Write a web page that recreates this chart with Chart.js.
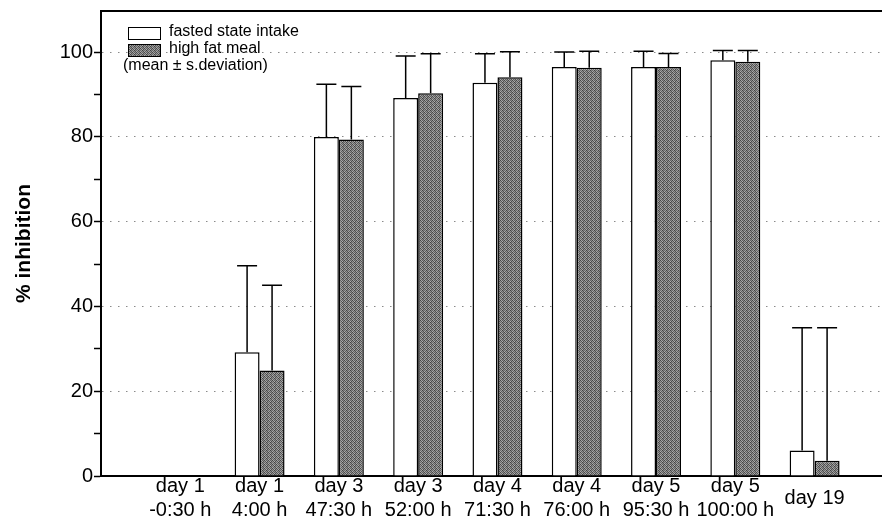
<!DOCTYPE html>
<html>
<head>
<meta charset="utf-8">
<script src="https://cdn.jsdelivr.net/npm/chart.js@4.4.1/dist/chart.umd.min.js"></script>
<style>
  html, body { margin: 0; padding: 0; background: #fff; }
  canvas { display: block; }
</style>
</head>
<body>
<canvas id="barChart" width="882" height="517"></canvas>
<script>
// x labels (one per time point)
const timeLabels = [
    ['day 1', '-0:30 h'], ['day 1', '4:00 h'], ['day 3', '47:30 h'],
    ['day 3', '52:00 h'], ['day 4', '71:30 h'], ['day 4', '76:00 h'],
    ['day 5', '95:30 h'], ['day 5', '100:00 h'], ['day 19']
];

// % inhibition
const fastedMean = [null, 29.2, 80.0, 89.2, 92.8, 96.5, 96.5, 98.1, 6.0];
const fastedSd   = [null, 20.4, 12.4, 9.9, 6.8, 3.5, 3.7, 2.3, 29.0];
const fatMean    = [null, 24.9, 79.4, 90.3, 94.1, 96.3, 96.5, 97.7, 3.6];
const fatSd      = [null, 20.1, 12.5, 9.3, 6.0, 3.9, 3.2, 2.7, 31.4];

const legendNames = ['fasted state intake', 'high fat meal'];
const legendNote = '(mean \u00b1 s.deviation)';

const FONT = "'Liberation Sans', Arial, sans-serif";

// stippled grey fill like the scanned original
function makeStipple() {
    const c = document.createElement('canvas');
    c.width = 4; c.height = 4;
    const g = c.getContext('2d');
    const levels = [
        [70, 165, 95, 140],
        [150, 85, 175, 75],
        [105, 160, 65, 135],
        [170, 95, 145, 80]
    ];
    for (let y = 0; y < 4; y++) {
        for (let x = 0; x < 4; x++) {
            const v = levels[y][x];
            g.fillStyle = 'rgb(' + v + ',' + v + ',' + v + ')';
            g.fillRect(x, y, 1, 1);
        }
    }
    return g.createPattern(c, 'repeat');
}

const ctx = document.getElementById('barChart').getContext('2d');
const stipple = makeStipple();

const toPoints = arr => arr.map((v, i) => ({ x: i + 1, y: v }));

// upward error bars with caps
const errorBars = {
    id: 'errorBars',
    afterDatasetsDraw(chart) {
        const yScale = chart.scales.y;
        const sds = [fastedSd, fatSd];
        const means = [fastedMean, fatMean];
        const c = chart.ctx;
        c.save();
        c.strokeStyle = '#000';
        c.lineWidth = 1.5;
        chart.data.datasets.forEach((ds, di) => {
            const meta = chart.getDatasetMeta(di);
            meta.data.forEach((bar, j) => {
                if (means[di][j] == null) return;
                const top = yScale.getPixelForValue(means[di][j] + sds[di][j]);
                c.beginPath();
                c.moveTo(bar.x, bar.y);
                c.lineTo(bar.x, top);
                c.moveTo(bar.x - 10, top);
                c.lineTo(bar.x + 10, top);
                c.stroke();
            });
        });
        c.restore();
    }
};

// legend box in the top-left corner of the plot
const cornerLegend = {
    id: 'cornerLegend',
    afterDraw(chart) {
        const c = chart.ctx;
        c.save();
        c.lineWidth = 1;
        c.strokeStyle = '#000';
        c.fillStyle = '#fff';
        c.fillRect(128.5, 27.5, 32, 12);
        c.strokeRect(128.5, 27.5, 32, 12);
        c.fillStyle = stipple;
        c.fillRect(128.5, 44.5, 32, 12);
        c.strokeRect(128.5, 44.5, 32, 12);
        c.fillStyle = '#000';
        c.font = '16px ' + FONT;
        c.textBaseline = 'middle';
        c.textAlign = 'left';
        c.fillText(legendNames[0], 169, 32);
        c.fillText(legendNames[1], 169, 49);
        c.fillText(legendNote, 123, 66);
        c.restore();
    }
};

const noPad = s => { s.paddingLeft = 0; s.paddingRight = 0; s.paddingTop = 0; s.paddingBottom = 0; };

new Chart(ctx, {
    type: 'bar',
    data: {
        datasets: [
            {
                label: legendNames[0],
                data: toPoints(fastedMean),
                backgroundColor: '#fff',
                borderColor: '#000',
                borderWidth: 1.5,
                borderSkipped: 'start'
            },
            {
                label: legendNames[1],
                data: toPoints(fatMean),
                backgroundColor: stipple,
                borderColor: '#000',
                borderWidth: 1.5,
                borderSkipped: 'start'
            }
        ]
    },
    options: {
        responsive: false,
        animation: false,
        devicePixelRatio: 1,
        categoryPercentage: 0.63,
        barPercentage: 1,
        layout: { padding: 0 },
        plugins: {
            legend: { display: false },
            tooltip: { enabled: false }
        },
        scales: {
            x: {
                type: 'linear',
                position: 'bottom',
                offset: false,
                min: 0,
                max: 9.85,
                grid: { display: false, drawTicks: false },
                border: { display: true, color: '#000', width: 2 },
                afterBuildTicks: s => { s.ticks = timeLabels.map((_, i) => ({ value: i + 1 })); },
                ticks: {
                    autoSkip: false,
                    maxRotation: 0,
                    crossAlign: 'center',
                    padding: 10,
                    color: '#000',
                    font: { family: FONT, size: 20, lineHeight: 1.2 },
                    callback: (v, i) => timeLabels[i]
                },
                afterFit: s => { s.height = 41; noPad(s); }
            },
            xTop: {
                type: 'linear',
                position: 'top',
                grid: { display: false, drawTicks: false },
                border: { display: true, color: '#000', width: 2 },
                ticks: { display: false },
                afterFit: s => { s.height = 11; noPad(s); }
            },
            y: {
                min: 0,
                max: 109.7,
                grid: {
                    color: c => (c.tick && c.tick.value > 0 && c.tick.value <= 100 && c.tick.value % 20 === 0) ? '#8a8a8a' : 'rgba(0,0,0,0)',
                    tickColor: c => (c.tick && c.tick.value <= 100 && c.tick.value % 10 === 0) ? '#000' : 'rgba(0,0,0,0)',
                    lineWidth: 1,
                    tickWidth: 1.5,
                    tickLength: 7,
                    drawTicks: true
                },
                border: { display: true, color: '#000', width: 2, dash: [1.5, 6.5] },
                ticks: {
                    stepSize: 10,
                    padding: 1,
                    color: '#000',
                    font: { family: FONT, size: 20 },
                    callback: v => (v % 20 === 0 && v <= 100) ? String(v) : ''
                },
                title: {
                    display: true,
                    text: '% inhibition',
                    color: '#000',
                    font: { family: FONT, size: 21, weight: 'bold' },
                    padding: { top: 12, bottom: 0 }
                },
                afterFit: s => { s.width = 101; noPad(s); }
            }
        }
    },
    plugins: [errorBars, cornerLegend]
});
</script>
</body>
</html>
